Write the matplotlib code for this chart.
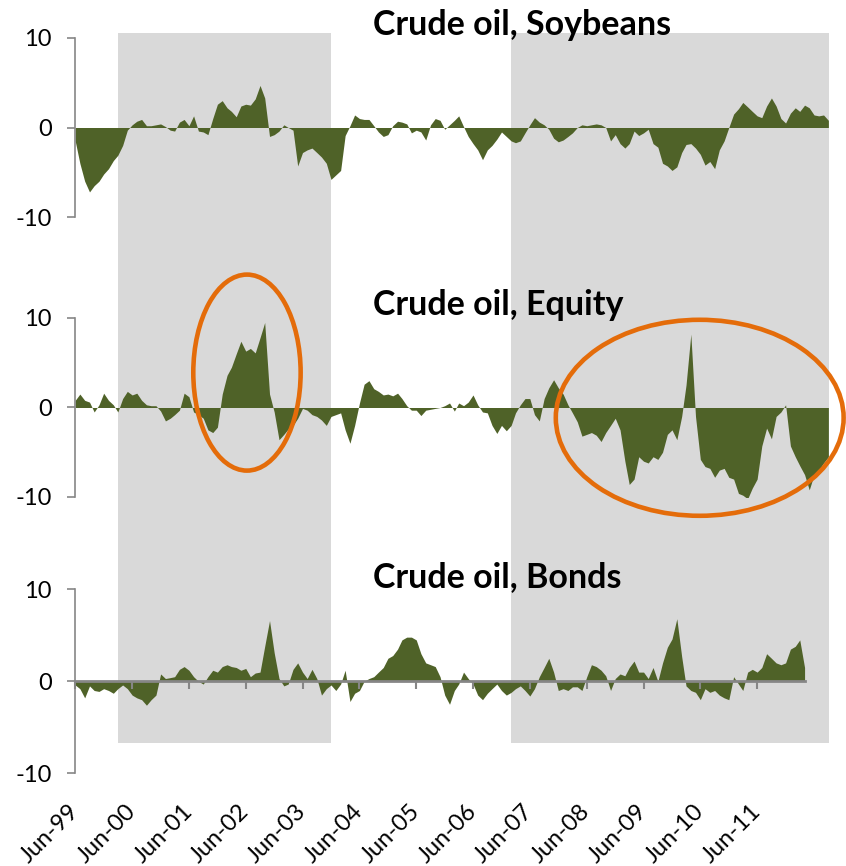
import numpy as np
import pandas as pd
import matplotlib
matplotlib.use('Agg')
import matplotlib.pyplot as plt
import matplotlib.dates as md
from matplotlib.patches import Ellipse

plt.rcParams['font.family'] = ['Lato', 'DejaVu Sans']

# monthly values, first point Jun-99
start = '1999-06-01'
soy = [-1.5, -4.0, -6.0, -7.2, -6.5, -6.0, -5.2, -4.6, -3.7, -3.1, -2.0, -0.3,
       0.3, 0.7, 0.9, 0.2, 0.2, 0.3, 0.4, 0.1, -0.3, -0.4, 0.6, 0.9,
       0.2, 1.3, -0.4, -0.5, -0.8, 1.0, 2.6, 3.0, 2.2, 1.8, 1.2, 2.4,
       2.6, 2.5, 3.2, 4.7, 3.3, -1.0, -0.8, -0.4, 0.3, 0.0, -0.3, -4.3,
       -2.8, -2.5, -2.3, -2.8, -3.3, -4.0, -5.8, -5.3, -4.8, -0.9, 0.2, 1.4,
       1.0, 0.9, 0.9, 0.2, -0.5, -1.0, -0.8, 0.2, 0.7, 0.6, 0.4, -0.6,
       -0.3, -0.5, -1.4, 0.3, 1.0, 0.8, -0.2, 0.3, 0.8, 1.3, 0.1, -1.0,
       -1.8, -2.5, -3.6, -2.5, -2.0, -1.3, -0.5, -1.0, -1.5, -1.7, -1.5, -0.6,
       0.3, 1.1, 0.6, 0.3, -0.2, -1.2, -1.6, -1.4, -1.0, -0.6, 0.0, 0.3,
       0.2, 0.3, 0.4, 0.3, 0.0, -1.5, -0.8, -1.8, -2.3, -1.8, -0.4, -0.9,
       -0.6, -0.2, -1.8, -2.2, -4.0, -4.3, -4.8, -4.4, -2.8, -1.9, -1.8, -2.3,
       -3.0, -4.2, -3.8, -4.6, -2.5, -1.5, 0.0, 1.5, 2.1, 2.8, 2.3, 1.8,
       1.3, 1.1, 2.4, 3.3, 2.4, 1.0, 0.5, 1.6, 2.2, 1.8, 2.5, 2.2,
       1.4, 1.3, 1.4, 0.8]
equity = [0.8, 1.5, 0.8, 0.6, -0.5, 0.3, 1.6, 0.8, 0.3, -0.5, 1.0, 1.8,
          1.4, 1.6, 0.8, 0.3, 0.2, 0.2, -0.4, -1.5, -1.2, -0.8, -0.3, 1.6,
          1.2, -0.5, -0.8, -1.2, -2.5, -2.8, -2.2, 1.5, 3.6, 4.5, 6.0, 7.4,
          6.3, 6.6, 6.1, 7.8, 9.5, 1.5, -0.5, -3.6, -3.0, -2.4, -2.0, -1.2,
          -0.1, -0.3, -0.8, -1.0, -1.4, -2.0, -1.0, -0.8, -0.6, -2.5, -4.0, -2.0,
          0.5, 2.6, 3.0, 2.1, 1.8, 1.4, 1.5, 1.3, 1.6, 1.0, 0.2, -0.3,
          -0.3, -0.9, -0.3, -0.2, -0.1, 0.0, 0.2, 0.5, -0.4, 0.5, 0.2, 0.6,
          1.4, 0.3, -0.5, -0.6, -2.0, -2.9, -2.0, -2.6, -2.0, -0.6, 0.3, 1.0,
          1.0, -0.8, -1.5, 1.0, 2.2, 3.1, 2.2, 1.5, 0.3, -0.6, -1.6, -3.2,
          -3.0, -2.8, -3.1, -3.8, -2.8, -2.0, -1.2, -2.5, -6.0, -8.6, -8.0, -5.5,
          -6.0, -6.2, -5.5, -5.8, -5.0, -3.0, -2.5, -3.6, -1.0, 2.5, 8.2, -1.0,
          -5.8, -6.6, -6.8, -7.8, -7.0, -6.8, -7.8, -8.0, -9.6, -9.8, -10.2, -9.0,
          -8.0, -4.3, -2.3, -3.5, -1.0, -0.5, 0.3, -4.3, -5.5, -6.5, -7.5, -9.2,
          -7.5, -7.0, -6.2, -5.5]
bonds = [-0.4, -0.8, -1.8, -0.5, -1.0, -1.1, -0.8, -1.0, -1.3, -0.8, -0.4, -0.8,
         -1.5, -1.8, -2.0, -2.6, -2.0, -1.5, 0.8, 0.3, 0.4, 0.5, 1.3, 1.6,
         1.2, 0.5, 0.0, -0.3, 0.5, 1.2, 1.0, 1.6, 1.8, 1.6, 1.5, 1.2,
         1.4, 0.5, 0.9, 1.0, 3.8, 6.6, 3.1, 0.3, -0.5, -0.3, 1.3, 2.0,
         1.0, 0.3, 1.3, 0.3, -1.5, -0.8, -0.4, -1.0, -0.3, 1.2, -2.2, -1.3,
         -1.0, 0.0, 0.3, 0.5, 1.0, 1.5, 2.5, 2.8, 3.5, 4.5, 4.8, 4.8,
         4.5, 3.0, 2.0, 1.8, 1.6, 0.5, -1.5, -2.5, -1.0, -0.3, 1.0, 0.3,
         -0.3, -1.5, -2.0, -1.3, -0.8, -0.3, -1.0, -1.5, -1.2, -0.8, -0.5, -1.0,
         -1.6, -0.8, 0.5, 1.5, 2.5, 1.0, -1.0, -0.8, -1.0, -0.6, -0.6, -1.0,
         0.5, 1.8, 1.6, 1.2, 0.6, -1.0, 0.3, 0.8, 0.6, 1.5, 2.2, 1.0,
         1.0, 0.3, 1.5, 0.0, 2.0, 3.7, 4.6, 6.8, 2.7, -0.5, -1.0, -1.2,
         -2.0, -0.8, -1.2, -1.0, -1.5, -1.8, -2.0, 0.5, -0.3, -1.0, 1.0, 1.3,
         1.0, 1.5, 3.0, 2.5, 2.0, 1.8, 2.0, 3.5, 3.8, 4.5, 1.5]

titles = ['Crude oil, Soybeans', 'Crude oil, Equity', 'Crude oil, Bonds']
shade = [('2000-03-05', '2003-12-03'), ('2007-02-01', '2012-09-05')]
xend = '2012-09-05'
yticks = [-10, 0, 10]
xticks = pd.date_range('1999-06-01', '2011-06-01', freq='12MS')

# ellipses: centre date, centre y, width (days), height (y units) on the Equity panel
rings = [('2002-06-09', 3.9, 690, 21.9), ('2010-05-28', -1.15, 1850, 21.9)]

green = '#4F6228'
grey = '#D9D9D9'
axc = '#868686'
orange = '#E46C0A'

W, H = 846, 866
fig = plt.figure(figsize=(W/100, H/100), dpi=100)
x0, x1 = 75.2, 829
left, width = x0/W, (x1-x0)/W
xlim = (pd.Timestamp(start), pd.Timestamp(xend))

# shaded periods run through all three panels
bg = fig.add_axes([left, 1-743/H, width, 710/H])
bg.set_xlim(xlim)
for a, b in shade:
    bg.axvspan(pd.Timestamp(a), pd.Timestamp(b), color=grey, lw=0)
bg.axis('off')

rows = [(38, 217), (318, 497), (589.3, 773.3)]
base = [35, 315, 587]
axs = []
for i, vals in enumerate([soy, equity, bonds]):
    top, bot = rows[i]
    ax = fig.add_axes([left, 1-bot/H, width, (bot-top)/H])
    ax.patch.set_visible(False)
    dd = pd.date_range(start, periods=len(vals), freq='MS')
    ax.fill_between(dd, vals, 0, color=green, lw=0)
    ax.set_xlim(xlim)
    ax.set_ylim(-10, 10)
    ax.set_yticks(yticks)
    ax.set_yticklabels([str(v) for v in yticks])
    for s in ['top', 'right']:
        ax.spines[s].set_visible(False)
    ax.spines['left'].set_color(axc)
    ax.spines['left'].set_linewidth(1.2)
    ax.tick_params(axis='y', direction='out', length=6, width=1.2, color=axc,
                   labelsize=17, pad=11)
    if i < 2:
        ax.spines['bottom'].set_visible(False)
        ax.set_xticks([])
    else:
        ax.spines['bottom'].set_position(('data', 0))
        ax.spines['bottom'].set_bounds(md.date2num(dd[0]), md.date2num(dd[-1]))
        ax.spines['bottom'].set_color(axc)
        ax.spines['bottom'].set_linewidth(2)
        ax.set_xticks(xticks)
        ax.tick_params(axis='x', direction='out', length=6, width=1.5, color=axc,
                       labelbottom=False)
        lab = ax.secondary_xaxis('bottom')
        lab.spines['bottom'].set_visible(False)
        lab.set_xticks(xticks)
        lab.set_xticklabels([d.strftime('%b-%y') for d in xticks])
        lab.tick_params(length=0, pad=25, labelsize=17)
        for t in lab.get_xticklabels():
            t.set_rotation(45)
            t.set_ha('right')
            t.set_va('center')
            t.set_rotation_mode('anchor')
    fig.text(373/W, 1-base[i]/H, titles[i], fontsize=24.5, fontweight='bold',
             va='baseline', ha='left')
    axs.append(ax)

for d, yc, w, h in rings:
    e = Ellipse((md.date2num(pd.Timestamp(d)), yc), w, h, fill=False,
                edgecolor=orange, lw=3.3, clip_on=False, zorder=5)
    axs[1].add_patch(e)

plt.savefig('out.png', dpi=100)
